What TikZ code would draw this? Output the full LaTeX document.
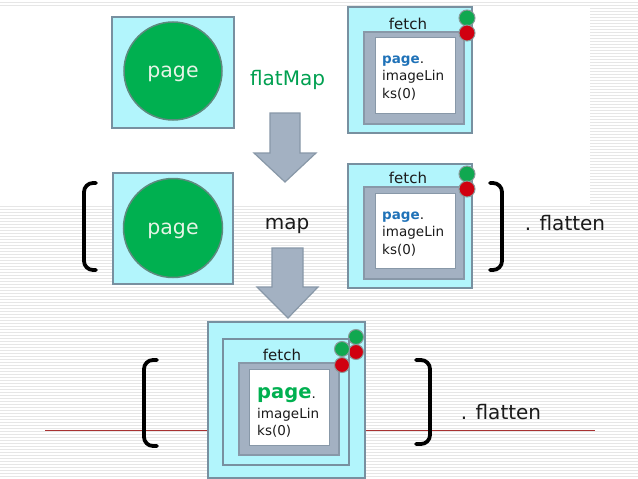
\documentclass[tikz,border=0pt]{standalone}
\usepackage{fontspec}
\setmainfont{DejaVu Sans}
\definecolor{cyanfill}{HTML}{B2F5FC}
\definecolor{boxborder}{HTML}{7890A0}
\definecolor{grayfill}{HTML}{A3B1C2}
\definecolor{grayborder}{HTML}{8898A8}
\definecolor{circgreen}{HTML}{00B050}
\definecolor{circborder}{HTML}{5E8A7E}
\definecolor{dotgreen}{HTML}{10A850}
\definecolor{dotred}{HTML}{D00010}
\definecolor{dotborder}{HTML}{8A9A9A}
\definecolor{codeblue}{HTML}{1F72B8}
\definecolor{labgreen}{HTML}{00A050}
\definecolor{pagewhite}{HTML}{E6F4E6}
\definecolor{redline}{HTML}{A83232}
\definecolor{stripe}{HTML}{E6E6E6}
\definecolor{textdark}{HTML}{1A1A1A}
\begin{document}
\begin{tikzpicture}[x=1pt,y=-1pt,
  cyanbox/.style={draw=boxborder,fill=cyanfill,line width=1.2,inner sep=0},
  graybox/.style={draw=grayborder,fill=grayfill,line width=1.2,inner sep=0},
  whitebox/.style={draw=grayborder,fill=white,line width=1,inner sep=0},
  bigcirc/.style={circle,draw=circborder,fill=circgreen,line width=1.5,inner sep=0},
  gdot/.style={circle,draw=dotborder,fill=dotgreen,line width=1,inner sep=0},
  rdot/.style={circle,draw=dotborder,fill=dotred,line width=1,inner sep=0},
  pagelab/.style={text=pagewhite,font=\fontsize{20.5}{24}\selectfont,inner sep=0},
  biglab/.style={font=\fontsize{20}{24}\selectfont,inner sep=0},
  fetchlab/.style={text=textdark,font=\fontsize{15}{18}\selectfont,inner sep=0},
  codelab/.style={text=textdark,font=\fontsize{13.5}{16}\selectfont,inner sep=0,anchor=base west},
  bracket/.style={line width=3.8,rounded corners=9,line cap=round},
  blockarrow/.style={draw=grayborder,fill=grayfill,line width=1.2,line join=miter}
]
\useasboundingbox (0,0) rectangle (638,479);
\fill[white] (0,0) rectangle (638,479);
% faint striped background
\foreach \yy in {206,209,...,479} {\draw[stripe,line width=1] (0,\yy) -- (638,\yy);}
\foreach \yy in {8,11,...,205} {\draw[stripe,line width=1] (590,\yy) -- (638,\yy);}
\draw[stripe,line width=1] (0,2.5) -- (638,2.5);
\draw[stripe,line width=1] (0,5) -- (638,5);
% red line
\draw[redline,line width=1] (45,430) -- (595,430);

% ---- top row ----
\node[cyanbox,minimum width=122,minimum height=111] (lbox1) at (173,72.5) {};
\node[bigcirc,minimum size=98] (circ1) at (173,71) {};
\node[pagelab] (page1) at (173,74) {page};
\node[biglab,text=labgreen] (flatmap) at (287.5,80) {flatMap};

\node[cyanbox,minimum width=124,minimum height=126] (fetch1) at (410,70) {};
\node[fetchlab] (fetchlab1) at (408,23.5) {fetch};
\node[graybox,minimum width=100,minimum height=92] (gray1) at (414,78) {};
\node[whitebox,minimum width=80,minimum height=76] (white1) at (415,75) {};
\node[codelab] (code1a) at (382,63) {{\bfseries\color{codeblue}page}.};
\node[codelab] (code1b) at (382,80.5) {imageLin};
\node[codelab] (code1c) at (382,98) {ks(0)};
\node[gdot,minimum size=16] (g1) at (467,18) {};
\node[rdot,minimum size=16] (r1) at (467,33) {};

% arrow 1
\draw[blockarrow] (270,113) -- (300,113) -- (300,153) -- (316,153) -- (285,182) -- (254,153) -- (270,153) -- cycle;

% ---- middle row ----
\node[cyanbox,minimum width=120,minimum height=111] (lbox2) at (173,228.5) {};
\node[bigcirc,minimum size=99] (circ2) at (173,228) {};
\node[pagelab] (page2) at (173,231) {page};
\node[biglab,text=textdark] (maplab) at (287,226) {map};

\node[cyanbox,minimum width=124,minimum height=124] (fetch2) at (410,226) {};
\node[fetchlab] (fetchlab2) at (408,177.5) {fetch};
\node[graybox,minimum width=100,minimum height=92] (gray2) at (414,233) {};
\node[whitebox,minimum width=80,minimum height=75] (white2) at (415,230.5) {};
\node[codelab] (code2a) at (382,219) {{\bfseries\color{codeblue}page}.};
\node[codelab] (code2b) at (382,236.5) {imageLin};
\node[codelab] (code2c) at (382,254) {ks(0)};
\node[gdot,minimum size=16] (g2) at (467,174) {};
\node[rdot,minimum size=16] (r2) at (467,189) {};

\draw[bracket] (96,183) -- (84,183) -- (84,270) -- (96,270);
\draw[bracket] (490,183) -- (502,183) -- (502,270) -- (490,270);
\node[biglab,text=textdark] (flat1) at (565,223) {. flatten};

% arrow 2
\draw[blockarrow] (272,248) -- (303,248) -- (303,287) -- (318,287) -- (288,318) -- (257,287) -- (272,287) -- cycle;

% ---- bottom row ----
\node[cyanbox,minimum width=157,minimum height=156] (fetch3) at (286.5,400) {};
\node[gdot,minimum size=15] (g3) at (356,337) {};
\node[rdot,minimum size=15] (r3) at (356,352) {};
\node[cyanbox,minimum width=126,minimum height=126] (fetch3i) at (286,402) {};
\node[fetchlab] (fetchlab3) at (282,354.5) {fetch};
\node[graybox,minimum width=100,minimum height=92] (gray3) at (289,409) {};
\node[whitebox,minimum width=80,minimum height=76] (white3) at (289,407) {};
\node[codelab,font=\fontsize{19.5}{22}\selectfont] (code3a) at (257,398) {{\bfseries\color{circgreen}page}{\fontsize{13.5}{16}\selectfont.}};
\node[codelab] (code3b) at (257,418) {imageLin};
\node[codelab] (code3c) at (257,435.5) {ks(0)};
\node[gdot,minimum size=15] (g4) at (342,349) {};
\node[rdot,minimum size=15] (r4) at (342,365) {};

\draw[bracket] (157,360) -- (144,360) -- (144,446) -- (157,446);
\draw[bracket] (416,360) -- (430,360) -- (430,444) -- (416,444);
\node[biglab,text=textdark] (flat2) at (501,412) {. flatten};
\end{tikzpicture}
\end{document}
